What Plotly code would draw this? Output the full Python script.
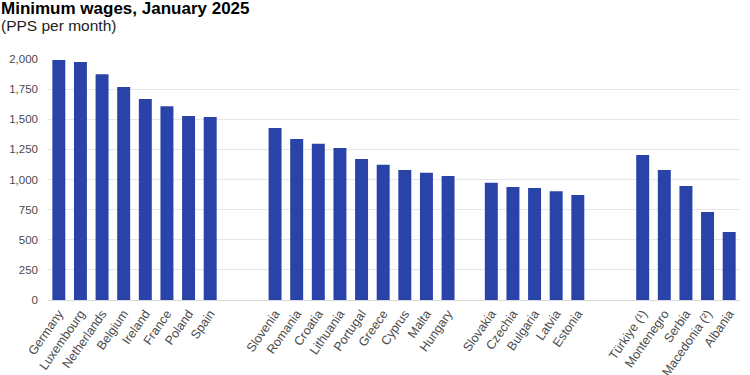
import plotly.graph_objects as go

group1 = ["Germany", "Luxembourg", "Netherlands", "Belgium", "Ireland", "France", "Poland", "Spain"]
values1 = [1991, 1975, 1873, 1768, 1668, 1608, 1527, 1519]
group2 = ["Slovenia", "Romania", "Croatia", "Lithuania", "Portugal", "Greece", "Cyprus", "Malta", "Hungary"]
values2 = [1427, 1337, 1296, 1262, 1171, 1122, 1079, 1055, 1030]
group3 = ["Slovakia", "Czechia", "Bulgaria", "Latvia", "Estonia"]
values3 = [972, 938, 930, 903, 872]
group4 = ["Türkiye (¹)", "Montenegro", "Serbia", "North Macedonia (²)", "Albania"]
values4 = [1203, 1079, 947, 731, 564]

groups = [(group1, values1), (group2, values2), (group3, values3), (group4, values4)]
gaps_after = [2, 1, 2, 0]
y_ticks = [0, 250, 500, 750, 1000, 1250, 1500, 1750, 2000]

xs, ys, labels = [], [], []
pos = 0
for (names, vals), gap in zip(groups, gaps_after):
    for n, v in zip(names, vals):
        xs.append(pos)
        ys.append(v)
        labels.append(n)
        pos += 1
    pos += gap

fig = go.Figure(go.Bar(x=xs, y=ys, marker=dict(color="#2a43a8", line=dict(width=0)), width=0.6))

fig.update_layout(
    width=750, height=375,
    margin=dict(l=48, r=10, t=59, b=75),
    paper_bgcolor="white", plot_bgcolor="white",
    font=dict(family="Liberation Sans, Arial, sans-serif", color="#555555"),
    showlegend=False,
    xaxis=dict(
        range=[-0.5, pos - 0.5], tickmode="array", tickvals=xs, ticktext=labels,
        tickangle=-55, tickfont=dict(size=12.5, color="#4a4a4a"), showgrid=False,
        showline=False, zeroline=False, automargin=False, ticks="", ticklabelstandoff=3,
    ),
    yaxis=dict(
        range=[0, 2000], tickmode="array", tickvals=y_ticks,
        ticktext=[f"{v:,}" for v in y_ticks], tickfont=dict(size=11.5, color="#4a4a4a"),
        showgrid=True, gridcolor="#e6e6e6", gridwidth=1, zeroline=True,
        zerolinecolor="#d9d9d9", zerolinewidth=1, automargin=False, ticklabelstandoff=9,
    ),
    annotations=[
        dict(text="<b>Minimum wages, January 2025</b>", x=0, y=1, xref="paper", yref="paper",
             xanchor="left", yanchor="bottom", xshift=-49, yshift=39, showarrow=False,
             font=dict(size=17, color="#000000")),
        dict(text="(PPS per month)", x=0, y=1, xref="paper", yref="paper",
             xanchor="left", yanchor="bottom", xshift=-49, yshift=23, showarrow=False,
             font=dict(size=15.5, color="#222222")),
    ],
)

fig.write_html("out.html", config={"displayModeBar": False},
               post_script="document.body.style.margin='0';")
